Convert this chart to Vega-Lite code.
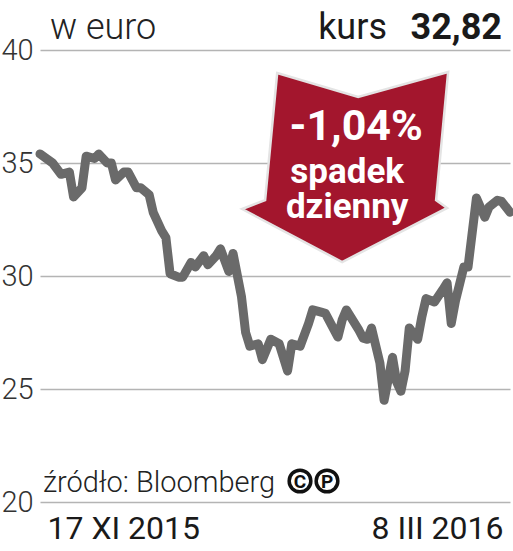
{
  "$schema": "https://vega.github.io/schema/vega-lite/v6.json",
  "width": 470,
  "height": 452,
  "autosize": {"type": "none"},
  "padding": {"left": 40, "top": 50, "right": 3, "bottom": 49},
  "background": "white",
  "config": {"view": {"stroke": null}, "font": "Roboto"},
  "layer": [
    {
      "data": {
        "values": [
          {"date": "2015-11-17", "kurs": 35.4},
          {"date": "2015-11-20", "kurs": 35.0},
          {"date": "2015-11-22", "kurs": 34.5},
          {"date": "2015-11-24", "kurs": 34.6},
          {"date": "2015-11-25", "kurs": 33.5},
          {"date": "2015-11-27", "kurs": 33.9},
          {"date": "2015-11-28", "kurs": 35.3},
          {"date": "2015-11-30", "kurs": 35.2},
          {"date": "2015-12-01", "kurs": 35.4},
          {"date": "2015-12-03", "kurs": 35.0},
          {"date": "2015-12-04", "kurs": 35.0},
          {"date": "2015-12-05", "kurs": 34.25},
          {"date": "2015-12-07", "kurs": 34.6},
          {"date": "2015-12-08", "kurs": 34.6},
          {"date": "2015-12-10", "kurs": 33.9},
          {"date": "2015-12-11", "kurs": 33.9},
          {"date": "2015-12-13", "kurs": 33.6},
          {"date": "2015-12-14", "kurs": 32.8},
          {"date": "2015-12-16", "kurs": 32.0},
          {"date": "2015-12-17", "kurs": 31.7},
          {"date": "2015-12-18", "kurs": 30.1},
          {"date": "2015-12-20", "kurs": 29.95},
          {"date": "2015-12-21", "kurs": 29.95},
          {"date": "2015-12-23", "kurs": 30.6},
          {"date": "2015-12-24", "kurs": 30.4},
          {"date": "2015-12-26", "kurs": 30.9},
          {"date": "2015-12-27", "kurs": 30.5},
          {"date": "2015-12-29", "kurs": 30.9},
          {"date": "2015-12-30", "kurs": 31.2},
          {"date": "2016-01-01", "kurs": 30.2},
          {"date": "2016-01-02", "kurs": 31.0},
          {"date": "2016-01-04", "kurs": 29.1},
          {"date": "2016-01-05", "kurs": 27.5},
          {"date": "2016-01-06", "kurs": 26.9},
          {"date": "2016-01-08", "kurs": 27.0},
          {"date": "2016-01-09", "kurs": 26.3},
          {"date": "2016-01-11", "kurs": 27.2},
          {"date": "2016-01-13", "kurs": 27.0},
          {"date": "2016-01-15", "kurs": 25.8},
          {"date": "2016-01-16", "kurs": 27.0},
          {"date": "2016-01-18", "kurs": 26.9},
          {"date": "2016-01-20", "kurs": 27.9},
          {"date": "2016-01-21", "kurs": 28.5},
          {"date": "2016-01-23", "kurs": 28.4},
          {"date": "2016-01-24", "kurs": 28.35},
          {"date": "2016-01-27", "kurs": 27.3},
          {"date": "2016-01-28", "kurs": 28.05},
          {"date": "2016-01-29", "kurs": 28.5},
          {"date": "2016-02-01", "kurs": 27.6},
          {"date": "2016-02-02", "kurs": 27.25},
          {"date": "2016-02-03", "kurs": 27.2},
          {"date": "2016-02-04", "kurs": 27.7},
          {"date": "2016-02-06", "kurs": 26.15},
          {"date": "2016-02-07", "kurs": 24.5},
          {"date": "2016-02-09", "kurs": 26.4},
          {"date": "2016-02-10", "kurs": 25.3},
          {"date": "2016-02-11", "kurs": 24.9},
          {"date": "2016-02-12", "kurs": 25.8},
          {"date": "2016-02-13", "kurs": 27.7},
          {"date": "2016-02-15", "kurs": 27.2},
          {"date": "2016-02-16", "kurs": 28.2},
          {"date": "2016-02-17", "kurs": 29.0},
          {"date": "2016-02-19", "kurs": 28.85},
          {"date": "2016-02-21", "kurs": 29.4},
          {"date": "2016-02-22", "kurs": 29.7},
          {"date": "2016-02-23", "kurs": 27.9},
          {"date": "2016-02-24", "kurs": 28.9},
          {"date": "2016-02-26", "kurs": 30.4},
          {"date": "2016-02-27", "kurs": 30.4},
          {"date": "2016-02-29", "kurs": 33.45},
          {"date": "2016-03-02", "kurs": 32.6},
          {"date": "2016-03-03", "kurs": 33.05},
          {"date": "2016-03-05", "kurs": 33.35},
          {"date": "2016-03-06", "kurs": 33.3},
          {"date": "2016-03-08", "kurs": 32.82}
        ]
      },
      "mark": {"type": "line", "color": "#6a6a6a", "strokeWidth": 9, "strokeJoin": "round", "strokeCap": "round"},
      "encoding": {
        "x": {
          "field": "date", "type": "temporal",
          "scale": {"type": "utc", "domain": [{"year": 2015, "month": 11, "date": 17, "utc": true}, {"year": 2016, "month": 3, "date": 8, "utc": true}]},
          "axis": {
            "title": null,
            "values": [{"year": 2015, "month": 11, "date": 17, "utc": true}, {"year": 2016, "month": 3, "date": 8, "utc": true}],
            "domain": false, "ticks": false, "tickSize": 0, "grid": false,
            "labelFlush": true, "labelFlushOffset": -7, "labelOverlap": false,
            "labelFont": "Roboto", "labelFontSize": 32, "labelColor": "#1a1a1a", "labelPadding": 11,
            "labelExpr": "utcdate(datum.value) + ' ' + ['I','II','III','IV','V','VI','VII','VIII','IX','X','XI','XII'][utcmonth(datum.value)] + ' ' + utcyear(datum.value)"
          }
        },
        "y": {
          "field": "kurs", "type": "quantitative",
          "scale": {"domain": [20, 40], "nice": false, "zero": false},
          "axis": {
            "title": null, "values": [20, 25, 30, 35, 40],
            "domain": false, "ticks": false, "tickSize": 0, "grid": true,
            "gridColor": "#b4b4b4", "gridWidth": 1.5,
            "labelAlign": "left", "labelPadding": 39, "labelBaseline": "middle",
            "labelFlush": false, "labelOverlap": false,
            "labelFont": "Roboto", "labelFontWeight": 300, "labelFontSize": 29, "labelColor": "#333333"
          }
        }
      }
    },
    {
      "data": {"values": [{}]},
      "mark": {"type": "point", "shape": "M-0.66,-0.893L0.126,-0.66L1,-0.903L0.883,0.34L0.99,0.417L-0.029,0.942L-1,0.427L-0.777,0.34Z", "filled": true, "fill": "#a3162d", "stroke": "#e4e4e4", "strokeWidth": 2.5, "size": 42436, "opacity": 1, "xOffset": 3},
      "encoding": {
        "x": {"datum": {"year": 2016, "month": 1, "date": 28, "utc": true}, "type": "temporal"},
        "y": {"datum": 34.91, "type": "quantitative"}
      }
    },
    {
      "data": {"values": [{}]},
      "mark": {"type": "text", "text": "-1,04%", "font": "Roboto", "fontWeight": "bold", "fontSize": 43, "color": "white", "align": "center", "baseline": "alphabetic", "dx": 14, "dy": -25},
      "encoding": {
        "x": {"datum": {"year": 2016, "month": 1, "date": 28, "utc": true}, "type": "temporal"},
        "y": {"datum": 34.91, "type": "quantitative"}
      }
    },
    {
      "data": {"values": [{}]},
      "mark": {"type": "text", "text": "spadek", "font": "Roboto", "fontWeight": "bold", "fontSize": 35, "color": "white", "align": "center", "baseline": "alphabetic", "dx": 5, "dy": 18},
      "encoding": {
        "x": {"datum": {"year": 2016, "month": 1, "date": 28, "utc": true}, "type": "temporal"},
        "y": {"datum": 34.91, "type": "quantitative"}
      }
    },
    {
      "data": {"values": [{}]},
      "mark": {"type": "text", "text": "dzienny", "font": "Roboto", "fontWeight": "bold", "fontSize": 35, "color": "white", "align": "center", "baseline": "alphabetic", "dx": 5, "dy": 53},
      "encoding": {
        "x": {"datum": {"year": 2016, "month": 1, "date": 28, "utc": true}, "type": "temporal"},
        "y": {"datum": 34.91, "type": "quantitative"}
      }
    },
    {
      "data": {"values": [{}]},
      "mark": {"type": "text", "text": "w euro", "font": "Roboto", "fontWeight": 300, "fontSize": 36, "color": "#222222", "align": "left", "baseline": "alphabetic", "dx": 10, "dy": -11},
      "encoding": {
        "x": {"datum": {"year": 2015, "month": 11, "date": 17, "utc": true}, "type": "temporal"},
        "y": {"datum": 40, "type": "quantitative"}
      }
    },
    {
      "data": {"values": [{}]},
      "mark": {"type": "text", "text": "kurs", "font": "Roboto", "fontWeight": 400, "fontSize": 36, "color": "#1a1a1a", "align": "right", "baseline": "alphabetic", "dx": -123, "dy": -11},
      "encoding": {
        "x": {"datum": {"year": 2016, "month": 3, "date": 8, "utc": true}, "type": "temporal"},
        "y": {"datum": 40, "type": "quantitative"}
      }
    },
    {
      "data": {"values": [{}]},
      "mark": {"type": "text", "text": "32,82", "font": "Roboto", "fontWeight": "bold", "fontSize": 36, "color": "#1a1a1a", "align": "right", "baseline": "alphabetic", "dx": -8, "dy": -11},
      "encoding": {
        "x": {"datum": {"year": 2016, "month": 3, "date": 8, "utc": true}, "type": "temporal"},
        "y": {"datum": 40, "type": "quantitative"}
      }
    },
    {
      "data": {"values": [{}]},
      "mark": {"type": "text", "text": "źródło: Bloomberg", "font": "Roboto", "fontWeight": 300, "fontSize": 29, "color": "#222222", "align": "left", "baseline": "alphabetic", "dx": 3, "dy": -10},
      "encoding": {
        "x": {"datum": {"year": 2015, "month": 11, "date": 17, "utc": true}, "type": "temporal"},
        "y": {"datum": 20, "type": "quantitative"}
      }
    },
    {
      "data": {"values": [{"sym": "C", "off": 260}, {"sym": "P", "off": 287}]},
      "mark": {"type": "point", "shape": "circle", "filled": false, "stroke": "#111111", "strokeWidth": 3.5, "size": 470, "opacity": 1, "yOffset": -21},
      "encoding": {
        "x": {"datum": {"year": 2015, "month": 11, "date": 17, "utc": true}, "type": "temporal"},
        "y": {"datum": 20, "type": "quantitative"},
        "xOffset": {"field": "off", "type": "quantitative", "scale": null}
      }
    },
    {
      "data": {"values": [{"sym": "C", "off": 260}, {"sym": "P", "off": 287}]},
      "mark": {"type": "text", "font": "Roboto", "fontWeight": "bold", "fontSize": 19, "color": "#111111", "align": "center", "baseline": "middle", "dy": -20},
      "encoding": {
        "x": {"datum": {"year": 2015, "month": 11, "date": 17, "utc": true}, "type": "temporal"},
        "y": {"datum": 20, "type": "quantitative"},
        "xOffset": {"field": "off", "type": "quantitative", "scale": null},
        "text": {"field": "sym"}
      }
    }
  ]
}
